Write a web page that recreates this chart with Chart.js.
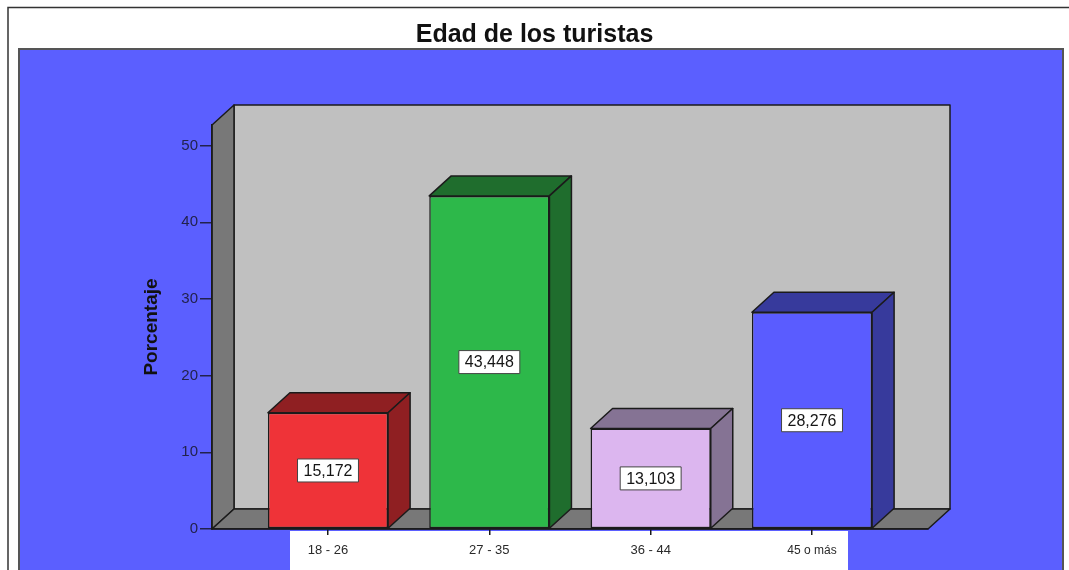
<!DOCTYPE html>
<html>
<head>
<meta charset="utf-8">
<title>Edad de los turistas</title>
<script src="https://cdn.jsdelivr.net/npm/chart.js@4.4.1/dist/chart.umd.min.js"></script>
<style>
  html, body { margin: 0; padding: 0; background: #fff; }
  #wrap { width: 1069px; height: 570px; }
</style>
</head>
<body>
<div id="wrap"><canvas id="myChart" width="1069" height="570"></canvas></div>
<script>
const categories = ["18 - 26", "27 - 35", "36 - 44", "45 o más"];
const porcentajes = [15.172, 43.448, 13.103, 28.276];
const yTicks = [0, 10, 20, 30, 40, 50];

const frontColors = ["#ef3338", "#2db84a", "#dcb6ef", "#5a5cff"];
const sideColors = ["#8f1f22", "#1f6d2d", "#857394", "#373a9c"];

const DX = 22; // profundidad 3D
const DY = 20;
const EDGE = "#1b1b1b";

// fondo, marco y paredes del grafico 3D
const fondo = {
  id: "fondo",
  beforeDraw(chart) {
    const { ctx, chartArea: ca, scales } = chart;
    ctx.save();
    ctx.fillStyle = "#fff";
    ctx.fillRect(0, 0, chart.width, chart.height);
    ctx.strokeStyle = "#333";
    ctx.lineWidth = 1.5;
    ctx.strokeRect(8, 7.5, chart.width + 10, chart.height + 10);

    ctx.fillStyle = "#5b5fff";
    ctx.fillRect(19, 49, 1044, chart.height);
    ctx.strokeStyle = "#555";
    ctx.lineWidth = 2;
    ctx.strokeRect(19, 49, 1044, chart.height + 10);

    // caja blanca de las etiquetas
    const x = scales.x;
    const x0 = x.getPixelForValue(1) - 38;
    const x1 = x.getPixelForValue(categories.length) + 36;
    ctx.fillStyle = "#fff";
    ctx.fillRect(x0, ca.bottom + 2, x1 - x0, chart.height - ca.bottom);

    ctx.lineWidth = 1.5;
    ctx.strokeStyle = EDGE;
    ctx.lineJoin = "round";
    // pared del fondo
    ctx.fillStyle = "#c0c0c0";
    ctx.beginPath();
    ctx.rect(ca.left + DX, ca.top - DY, ca.right - ca.left, ca.bottom - ca.top);
    ctx.fill();
    ctx.stroke();
    // pared izquierda
    ctx.fillStyle = "#787878";
    ctx.beginPath();
    ctx.moveTo(ca.left, ca.top);
    ctx.lineTo(ca.left + DX, ca.top - DY);
    ctx.lineTo(ca.left + DX, ca.bottom - DY);
    ctx.lineTo(ca.left, ca.bottom);
    ctx.closePath();
    ctx.fill();
    ctx.stroke();
    // suelo
    ctx.beginPath();
    ctx.moveTo(ca.left, ca.bottom);
    ctx.lineTo(ca.left + DX, ca.bottom - DY);
    ctx.lineTo(ca.right + DX, ca.bottom - DY);
    ctx.lineTo(ca.right, ca.bottom);
    ctx.closePath();
    ctx.fill();
    ctx.stroke();
    ctx.restore();
  }
};

// caras superior y lateral de las barras + etiquetas de valor
const barras3d = {
  id: "barras3d",
  afterDatasetsDraw(chart) {
    const { ctx } = chart;
    const meta = chart.getDatasetMeta(0);
    ctx.save();
    ctx.lineJoin = "round";
    meta.data.forEach((bar, i) => {
      const p = bar.getProps(["x", "y", "base", "width"], true);
      const l = p.x - p.width / 2;
      const r = p.x + p.width / 2;
      ctx.lineWidth = 1.5;
      ctx.strokeStyle = EDGE;
      ctx.fillStyle = sideColors[i];
      ctx.beginPath();
      ctx.moveTo(l, p.y);
      ctx.lineTo(l + DX, p.y - DY);
      ctx.lineTo(r + DX, p.y - DY);
      ctx.lineTo(r, p.y);
      ctx.closePath();
      ctx.fill();
      ctx.stroke();
      ctx.beginPath();
      ctx.moveTo(r, p.y);
      ctx.lineTo(r + DX, p.y - DY);
      ctx.lineTo(r + DX, p.base - DY);
      ctx.lineTo(r, p.base);
      ctx.closePath();
      ctx.fill();
      ctx.stroke();

      const txt = porcentajes[i].toFixed(3).replace(".", ",");
      ctx.font = "16px 'Liberation Sans', Arial, sans-serif";
      const w = ctx.measureText(txt).width + 12;
      const h = 23;
      const cy = (p.y + p.base) / 2;
      ctx.fillStyle = "#fff";
      ctx.fillRect(p.x - w / 2, cy - h / 2, w, h);
      ctx.lineWidth = 1;
      ctx.strokeStyle = "#444";
      ctx.strokeRect(p.x - w / 2, cy - h / 2, w, h);
      ctx.fillStyle = "#151515";
      ctx.textAlign = "center";
      ctx.textBaseline = "middle";
      ctx.fillText(txt, p.x, cy + 1);
    });
    ctx.restore();
  }
};

const ctx = document.getElementById("myChart").getContext("2d");
new Chart(ctx, {
  type: "bar",
  data: {
    datasets: [
      {
        label: "Porcentaje",
        data: porcentajes.map((v, i) => ({ x: i + 1, y: v })),
        backgroundColor: frontColors,
        borderColor: EDGE,
        borderWidth: 1.5,
        borderSkipped: false,
        barPercentage: 0.745,
        categoryPercentage: 1,
      },
    ],
  },
  options: {
    responsive: false,
    animation: false,
    layout: { padding: 0 },
    plugins: {
      legend: { display: false },
      tooltip: { enabled: false },
      title: {
        display: true,
        text: "Edad de los turistas",
        color: "#111",
        font: { family: "'Liberation Sans', Arial, sans-serif", size: 25, weight: "bold" },
        padding: { top: 20, bottom: 75 },
      },
    },
    scales: {
      x: {
        type: "linear",
        offset: false,
        min: 0.281,
        max: 4.719,
        afterFit: (scale) => { scale.height = 41; },
        ticks: {
          stepSize: 1,
          includeBounds: false,
          padding: 8,
          color: "#2a2a2a",
          font: (c) => ({
            family: "'Liberation Sans Narrow', 'Liberation Sans', Arial, sans-serif",
            size: c.index === 3 ? 12 : 13,
          }),
          callback: (v) => categories[v - 1] || "",
        },
        grid: { offset: false, drawOnChartArea: false, tickLength: 6, color: EDGE, lineWidth: 1.5 },
        border: { display: true, color: EDGE, width: 1.5 },
      },
      y: {
        min: 0,
        max: 52.7,
        afterFit: (scale) => { scale.width = 212; },
        afterBuildTicks: (scale) => { scale.ticks = yTicks.map((v) => ({ value: v })); },
        ticks: {
          padding: 2,
          color: "#22224d",
          font: { family: "'Liberation Sans', Arial, sans-serif", size: 15 },
        },
        grid: { drawOnChartArea: false, tickLength: 12, color: "#22224d", lineWidth: 1.5 },
        border: { display: true, color: EDGE, width: 1.5 },
        title: {
          display: true,
          text: "Porcentaje",
          color: "#111",
          font: { family: "'Liberation Sans Narrow', 'Liberation Sans', Arial, sans-serif", size: 19, weight: "bold" },
          padding: { top: 140, bottom: 0 },
        },
      },
      // eje invisible a la derecha que reserva el margen
      margen: {
        position: "right",
        afterFit: (scale) => { scale.width = 141; },
        ticks: { display: false },
        grid: { display: false },
        border: { display: false },
      },
    },
  },
  plugins: [fondo, barras3d],
});
</script>
</body>
</html>
